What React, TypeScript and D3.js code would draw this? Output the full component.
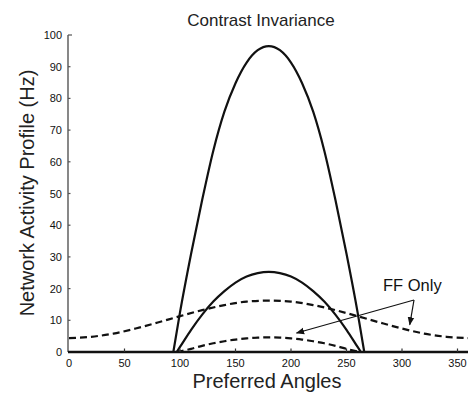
import React from "react";
import * as d3 from "d3";

const W = 468;
const H = 393;

// Feed-forward input, wide profile (full 0..360 range)
const wideAngles = [0, 20, 40, 60, 80, 100, 120, 140, 160, 180, 200, 220, 240, 260, 280, 300, 320, 340, 360];
const ffWide = [4.4, 4.8, 5.8, 7.4, 9.3, 11.3, 13.2, 14.8, 15.9, 16.2, 15.9, 14.8, 13.2, 11.3, 9.3, 7.4, 5.8, 4.8, 4.4];

// Network response, high contrast
const highAngles = [94, 100, 110, 120, 130, 140, 150, 160, 170, 180, 190, 200, 210, 220, 230, 240, 250, 260, 266];
const highContrast = [0, 12.5, 31, 48, 63.5, 75.8, 84.8, 91.3, 95.2, 96.5, 95.2, 91.3, 84.8, 75.8, 63.5, 48, 31, 12.5, 0];

// Network response, low contrast, and the narrow feed-forward input
const lowAngles = [97, 100, 110, 120, 130, 140, 150, 160, 170, 180, 190, 200, 210, 220, 230, 240, 250, 260, 263];
const lowContrast = [0, 1.6, 7.0, 11.8, 15.9, 19.2, 21.9, 23.8, 24.9, 25.3, 24.9, 23.8, 21.9, 19.2, 15.9, 11.8, 7.0, 1.6, 0];
const ffNarrow = [0, 0.2, 1.0, 1.95, 2.75, 3.4, 3.93, 4.3, 4.53, 4.6, 4.53, 4.3, 3.93, 3.4, 2.75, 1.95, 1.0, 0.2, 0];

const xTicks = [0, 50, 100, 150, 200, 250, 300, 350];
const yTicks = [0, 10, 20, 30, 40, 50, 60, 70, 80, 90, 100];

const FONT = "'Liberation Sans', Arial, Helvetica, sans-serif";

export default function App() {
  const x = d3.scaleLinear().domain([0, 360]).range([69, 468.6]);
  const y = d3.scaleLinear().domain([0, 100]).range([352, 35]);

  const line = (xs: number[], ys: number[]) =>
    d3
      .line<number>()
      .x((_, i) => x(xs[i]))
      .y((d) => y(d))
      .curve(d3.curveMonotoneX)(ys) || "";

  const x0 = x(0) - 1;
  const yBase = y(0);

  // annotation arrows from the "FF Only" label
  const origin: [number, number] = [414, 300];
  const tipA: [number, number] = [x(205), y(6)];
  const tipB: [number, number] = [x(307), y(8.6)];

  return (
    <svg
      width={W}
      height={H}
      style={{ position: "absolute", left: 0, top: 0, background: "#fff" }}
      fontFamily={FONT}
    >
      <defs>
        <marker id="ah" viewBox="0 0 10 10" refX="9" refY="5" markerWidth="7" markerHeight="7" orient="auto">
          <path d="M0,1 L10,5 L0,9 z" fill="#111" />
        </marker>
      </defs>

      <text x={261} y={26} textAnchor="middle" fontSize={17} fill="#222">
        Contrast Invariance
      </text>

      {/* y axis */}
      <line x1={x0} x2={x0} y1={y(100)} y2={yBase} stroke="#555" strokeWidth={1.4} />
      {yTicks.map((t) => (
        <g key={t}>
          <line x1={x0} x2={x0 + (t === 100 ? 4 : 2.5)} y1={y(t)} y2={y(t)} stroke="#555" strokeWidth={1.2} />
          <text x={62} y={y(t) + 4} textAnchor="end" fontSize={11} fill="#111">
            {t}
          </text>
        </g>
      ))}

      {/* curves */}
      <path d={line(wideAngles, ffWide)} fill="none" stroke="#111" strokeWidth={2.2} strokeDasharray="7,4" />
      <path d={line(lowAngles, ffNarrow)} fill="none" stroke="#111" strokeWidth={2.2} strokeDasharray="7,4" />
      <path d={line(highAngles, highContrast)} fill="none" stroke="#111" strokeWidth={2.2} />
      <path d={line(lowAngles, lowContrast)} fill="none" stroke="#111" strokeWidth={2.2} />

      {/* x axis */}
      <line x1={x0} x2={W} y1={yBase} y2={yBase} stroke="#111" strokeWidth={2.6} />
      {xTicks.map((t) => (
        <g key={t}>
          {t > 0 && <line x1={x(t)} x2={x(t)} y1={yBase} y2={yBase - 3.5} stroke="#333" strokeWidth={1.2} />}
          <text x={x(t)} y={367} textAnchor="middle" fontSize={11} fill="#111">
            {t}
          </text>
        </g>
      ))}

      <text x={267} y={388} textAnchor="middle" fontSize={20} fill="#222">
        Preferred Angles
      </text>
      <text
        transform={`translate(34, 193) rotate(-90)`}
        textAnchor="middle"
        fontSize={20}
        fill="#222"
      >
        Network Activity Profile (Hz)
      </text>

      {/* annotation */}
      <text x={383} y={291} fontSize={16.5} fill="#111">
        FF Only
      </text>
      <line x1={origin[0]} y1={origin[1]} x2={tipA[0]} y2={tipA[1]} stroke="#111" strokeWidth={1.2} markerEnd="url(#ah)" />
      <line x1={origin[0]} y1={origin[1]} x2={tipB[0]} y2={tipB[1]} stroke="#111" strokeWidth={1.2} markerEnd="url(#ah)" />
    </svg>
  );
}
